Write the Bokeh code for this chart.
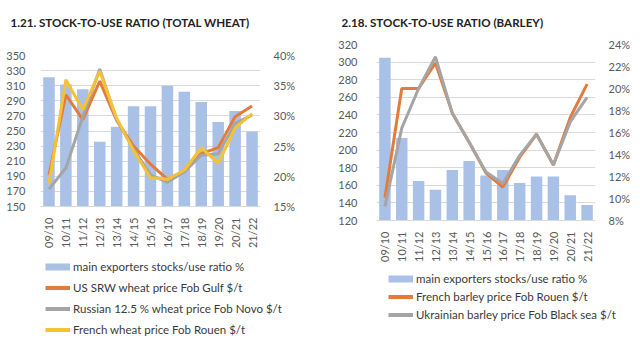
from bokeh.plotting import figure
from bokeh.models import (Range1d, LinearAxis, Legend, LegendItem, Label,
                          SingleIntervalTicker, FixedTicker, PrintfTickFormatter, ColumnDataSource)
from bokeh.layouts import row, column
from bokeh.embed import file_html
from bokeh.resources import INLINE
import math

categories = ["09/10", "10/11", "11/12", "12/13", "13/14", "14/15", "15/16",
              "16/17", "17/18", "18/19", "19/20", "20/21", "21/22"]

# Wheat
wheat_title = "1.21. STOCK-TO-USE RATIO (TOTAL WHEAT)"
wheat_left_ticks = [150, 170, 190, 210, 230, 250, 270, 290, 310, 330, 350]
wheat_ratio = [36.4, 35.2, 34.4, 25.7, 28.2, 31.6, 31.6, 35.0, 34.0, 32.3, 29.0, 30.8, 27.4]
us_srw = [192, 298, 265, 316, 264, 230, 206, 186, 196, 220, 228, 269, 283]
russian = [173, 201, 269, 332, 265, 226, 192, 182, 196, 218, 220, 260, 271]
french_wheat = [180, 318, 278, 329, 267, 224, 188, 186, 198, 228, 207, 254, 273]

# Barley
barley_title = "2.18. STOCK-TO-USE RATIO (BARLEY)"
barley_left_ticks = [120, 140, 160, 180, 200, 220, 240, 260, 280, 300, 320]
barley_ratio = [22.8, 15.5, 11.6, 10.8, 12.6, 13.4, 12.1, 12.6, 11.4, 12.0, 12.0, 10.3, 9.4]
french_barley = [146, 270, 270, 299, 242, 209, 174, 158, 192, 218, 183, 237, 275]
ukr_barley = [136, 225, 270, 306, 242, 209, 175, 162, 194, 218, 183, 232, 260]

BAR = "#A9C1E7"
ORANGE = "#E47B3C"
GREY = "#A5A5A5"
YELLOW = "#F5C232"
GRID = "#D9D9D9"
TICK = "#595959"
TXT = "#3A3A3A"
FONT = "Lato"
NAN = float("nan")


def base_fig(width, height, left, right, top, bottom, yr, yr2, ticks, step2):
    p = figure(x_range=categories, y_range=yr, width=width, height=height,
               output_backend="svg", toolbar_location=None,
               min_border_left=left, min_border_right=right,
               min_border_top=top, min_border_bottom=bottom,
               frame_align=False)
    p.outline_line_color = None
    p.background_fill_color = "white"
    p.border_fill_color = "white"
    p.xgrid.grid_line_color = None
    p.ygrid.grid_line_color = GRID
    p.ygrid.grid_line_width = 1
    p.yaxis.ticker = FixedTicker(ticks=ticks)
    p.extra_y_ranges = {"pct": yr2}
    ax2 = LinearAxis(y_range_name="pct", ticker=SingleIntervalTicker(interval=step2),
                     formatter=PrintfTickFormatter(format="%d%%"))
    p.add_layout(ax2, "right")
    for ax in (p.yaxis[0], ax2):
        ax.axis_line_color = None
        ax.major_tick_line_color = None
        ax.minor_tick_line_color = None
        ax.major_label_text_font = FONT
        ax.major_label_text_font_size = "11px"
        ax.major_label_text_color = TICK
    p.yaxis[0].major_label_standoff = 9
    ax2.major_label_standoff = 7
    xa = p.xaxis[0]
    xa.axis_line_color = GRID
    xa.major_tick_line_color = None
    xa.minor_tick_line_color = None
    xa.major_label_orientation = math.pi / 2
    xa.major_label_text_font = FONT
    xa.major_label_text_font_size = "11px"
    xa.major_label_text_color = TICK
    xa.major_label_standoff = 5
    return p


def blank_fig(width, height):
    f = figure(width=width, height=height, output_backend="svg", toolbar_location=None,
               x_axis_type=None, y_axis_type=None, min_border=0, frame_align=False,
               x_range=Range1d(0, width), y_range=Range1d(0, height))
    f.outline_line_color = None
    f.grid.grid_line_color = None
    return f


def title_fig(width, text, x):
    f = blank_fig(width, 34)
    f.add_layout(Label(x=x, y=12, text=text, text_font=FONT, text_font_style="bold",
                       text_font_size="11.6px", text_color="#222222",
                       text_baseline="middle", text_align="left"))
    return f


# ---------------- Wheat ----------------
t1 = title_fig(323, wheat_title, 10)
p1 = base_fig(323, 216, 40, 63, 21, 39, Range1d(150, 350), Range1d(15, 40),
              wheat_left_ticks, 5)
src1 = ColumnDataSource(dict(cat=categories, ratio=wheat_ratio, us=us_srw, ru=russian, fr=french_wheat))
p1.vbar(x="cat", top="ratio", bottom=15, width=0.68, source=src1, y_range_name="pct",
        fill_color=BAR, line_color=None)
p1.line(x="cat", y="us", source=src1, line_color=ORANGE, line_width=3)
p1.line(x="cat", y="ru", source=src1, line_color=GREY, line_width=3)
p1.line(x="cat", y="fr", source=src1, line_color=YELLOW, line_width=3)

l1 = blank_fig(323, 109)
lg_bar1 = l1.line(x=[NAN], y=[NAN], line_color=BAR, line_width=7)
lg_us = l1.line(x=[NAN], y=[NAN], line_color=ORANGE, line_width=4)
lg_ru = l1.line(x=[NAN], y=[NAN], line_color=GREY, line_width=4)
lg_fr = l1.line(x=[NAN], y=[NAN], line_color=YELLOW, line_width=4)
leg1 = Legend(items=[
    LegendItem(label="main exporters stocks/use ratio %", renderers=[lg_bar1]),
    LegendItem(label="US SRW wheat price Fob Gulf $/t", renderers=[lg_us]),
    LegendItem(label="Russian 12.5 % wheat price Fob Novo $/t", renderers=[lg_ru]),
    LegendItem(label="French wheat price Fob Rouen $/t", renderers=[lg_fr]),
], location=(45, 21), orientation="vertical", glyph_width=25, glyph_height=17,
    label_height=17, spacing=4, padding=0, margin=0, label_standoff=3,
    label_text_font=FONT, label_text_font_size="11.5px", label_text_color=TXT,
    background_fill_alpha=0, border_line_color=None)
l1.add_layout(leg1, "center")

# ---------------- Barley ----------------
t2 = title_fig(317, barley_title, 18)
p2 = base_fig(317, 230, 53, 45, 10, 36, Range1d(120, 320), Range1d(8, 24),
              barley_left_ticks, 2)
p2.yaxis[0].major_label_standoff = 13
src2 = ColumnDataSource(dict(cat=categories, ratio=barley_ratio, fr=french_barley, ua=ukr_barley))
p2.vbar(x="cat", top="ratio", bottom=8, width=0.68, source=src2, y_range_name="pct",
        fill_color=BAR, line_color=None)
p2.line(x="cat", y="fr", source=src2, line_color=ORANGE, line_width=3)
p2.line(x="cat", y="ua", source=src2, line_color=GREY, line_width=3)

l2 = blank_fig(317, 95)
lg_bar2 = l2.line(x=[NAN], y=[NAN], line_color=BAR, line_width=7)
lg_fb = l2.line(x=[NAN], y=[NAN], line_color=ORANGE, line_width=4)
lg_ua = l2.line(x=[NAN], y=[NAN], line_color=GREY, line_width=4)
leg2 = Legend(items=[
    LegendItem(label="main exporters stocks/use ratio %", renderers=[lg_bar2]),
    LegendItem(label="French barley price Fob Rouen $/t", renderers=[lg_fb]),
    LegendItem(label="Ukrainian barley price Fob Black sea $/t", renderers=[lg_ua]),
], location=(65, 37), orientation="vertical", glyph_width=25, glyph_height=15,
    label_height=15, spacing=3, padding=0, margin=0, label_standoff=3,
    label_text_font=FONT, label_text_font_size="11.5px", label_text_color=TXT,
    background_fill_alpha=0, border_line_color=None)
l2.add_layout(leg2, "center")

layout = row(column(t1, p1, l1, spacing=0), column(t2, p2, l2, spacing=0), spacing=0)
open("out.html", "w").write(file_html(layout, INLINE))
